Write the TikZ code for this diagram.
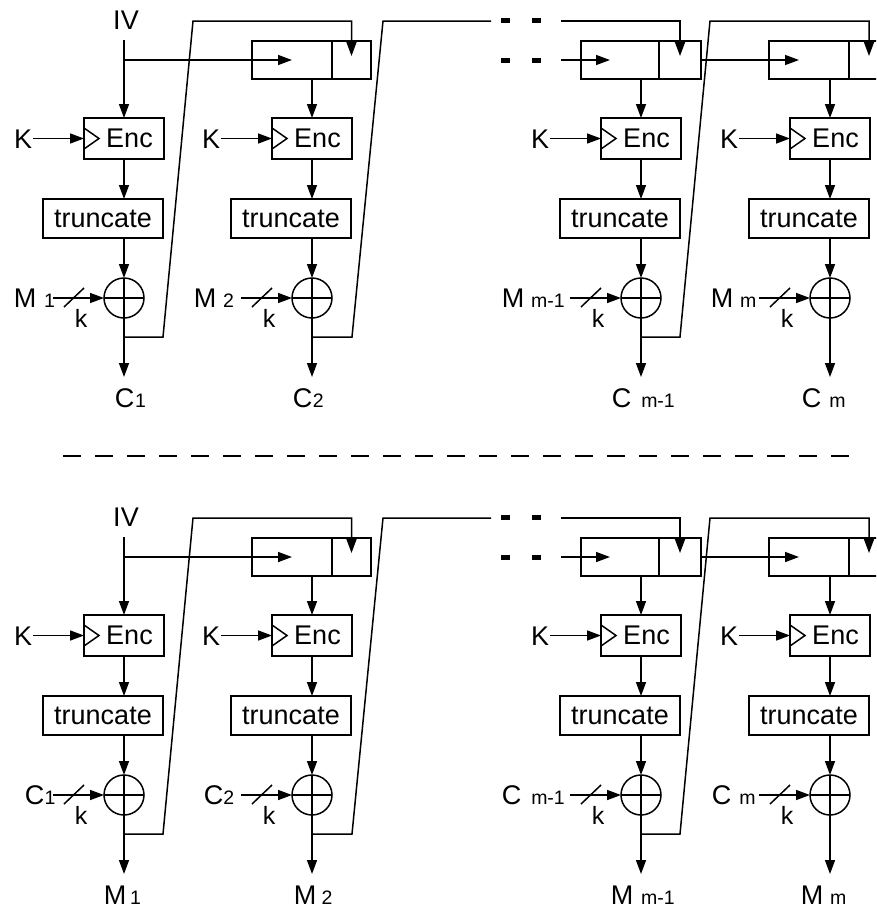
\documentclass[tikz,border=0pt]{standalone}
\usepackage{fontspec}
\setmainfont{Liberation Sans}
\usetikzlibrary{arrows.meta}
\newcommand{\cfbsub}[1]{{\fontsize{19.5}{22}\selectfont #1}}
\newcommand{\cfbstage}[2]{%
  \node[encbox] (#1enc) at (#2,138.5) {\hspace*{11pt}Enc};
  \draw (#1enc.west) ++(0,-10.5) -- ++(15,10.5) -- ++(-15,10.5);
  \node[lbl, anchor=base east] (#1K) at (#2-91,148) {K};
  \draw[arr] (#1K.east |- #1enc.west) -- (#1enc.west);
  \node[truncbox] (#1tr) at (#2-21,218.5) {truncate};
  \node[xorc] (#1x) at (#2,298) {};
  \draw (#1x.north) -- (#1x.south) (#1x.west) -- (#1x.east);
  \draw[arr] (#1enc.south) -- (#1enc.south |- #1tr.north);
  \draw[arr] (#1x |- #1tr.south) -- (#1x.north);
  \coordinate (#1in) at (#2-71,298);
  \draw[arr] (#1in) -- (#1x.west);
  \draw ([shift={(-60,9)}]#1x.center) -- ++(20,-19);
  \node[klbl, anchor=base] (#1k) at (#2-43,327) {k};
  \coordinate (#1out) at (#2,377);
  \draw[arr] (#1x.south) -- (#1out);
  \coordinate (#1fb) at (#2,337);
}
\newcommand{\cfbhalf}[1]{%
  \node[lbl, anchor=base] (#1IV) at (126,29) {IV};
  \cfbstage{#1s1}{124}
  \cfbstage{#1s2}{312}
  \cfbstage{#1s3}{641}
  \cfbstage{#1s4}{830}
  % shift registers
  \node[cellbox, minimum width=80pt] (#1r2a) at (252,60) {};
  \node[cellbox, minimum width=39pt] (#1r2b) at (#1r2a.east) {};
  \node[cellbox, minimum width=78pt] (#1r3a) at (581,60) {};
  \node[cellbox, minimum width=42pt] (#1r3b) at (#1r3a.east) {};
  \node[cellbox, minimum width=80pt] (#1r4a) at (769,60) {};
  \node[cellbox, minimum width=40pt] (#1r4b) at (#1r4a.east) {};
  % IV
  \coordinate (#1ivs) at (124,40);
  \draw[arr] (#1ivs) -- (#1s1enc.north);
  \coordinate (#1br) at (124,60);
  \draw[arr] (#1br) -- (#1r2a.center);
  % register outputs
  \draw[arr] (#1r2a.south -| #1s2x) -- (#1s2enc.north);
  \draw[arr] (#1r3a.south -| #1s3x) -- (#1s3enc.north);
  \draw[arr] (#1r4a.south -| #1s4x) -- (#1s4enc.north);
  % feedback
  \draw[arr] (#1s1fb) -- ++(39,0) -- ++(30,-316) -| ([yshift=4pt]#1r2b.center);
  \coordinate (#1dA) at (491,21);
  \draw (#1s2fb) -- ++(40,0) -- ++(31,-316) -- (#1dA);
  \draw[thickdash] (501,20) -- (510,20) (532,20) -- (541,20)
                   (501,60) -- (510,60) (532,60) -- (541,60);
  \coordinate (#1dB) at (561,21);
  \draw[arr] (#1dB) -| ([yshift=4pt]#1r3b.center);
  \coordinate (#1dC) at (561,60);
  \draw[arr] (#1dC) -- ([xshift=-10pt]#1r3a.center);
  \draw[arr] (#1s3fb) -- ++(39,0) -- ++(30,-316) -| ([yshift=4pt]#1r4b.center);
  \draw[arr] (#1r3b.east) -- ([xshift=-10pt]#1r4a.center);
}
\begin{document}
\begin{tikzpicture}[x=1pt,y=-1pt,line width=1.5pt,
  arr/.style={-{Triangle[length=14pt,width=10pt]}},
  lbl/.style={font=\fontsize{27}{30}\selectfont, inner sep=0pt},
  klbl/.style={font=\fontsize{25}{28}\selectfont, inner sep=0pt},
  encbox/.style={draw, minimum width=80pt, minimum height=41pt, inner sep=0pt, outer sep=0pt, font=\fontsize{27}{30}\selectfont},
  truncbox/.style={draw, minimum width=120pt, minimum height=39pt, inner sep=0pt, outer sep=0pt, font=\fontsize{27}{30}\selectfont},
  xorc/.style={draw, circle, minimum size=40pt, inner sep=0pt, outer sep=0pt},
  cellbox/.style={draw, minimum height=38pt, inner sep=0pt, outer sep=0pt, anchor=west},
  thickdash/.style={line width=5pt}
]
\useasboundingbox (0,0) rectangle (876,908);
\clip (0,0) rectangle (876,908);
\cfbhalf{t}
\begin{scope}[yshift=-497pt]
\cfbhalf{b}
\end{scope}
% separator
\coordinate (sepL) at (63,456);
\coordinate (sepR) at (860,456);
\draw[dash pattern=on 18pt off 14pt] (sepL) -- (sepR);
% top labels
\node[lbl, anchor=base west] (tM1) at (13,307) {M\hspace{8pt}\cfbsub{1}};
\node[lbl, anchor=base west] (tM2) at (193,307) {M\hspace{7pt}\cfbsub{2}};
\node[lbl, anchor=base west] (tM3) at (501,307) {M\hspace{7pt}\cfbsub{m-1}};
\node[lbl, anchor=base west] (tM4) at (710,307) {M\hspace{7pt}\cfbsub{m}};
\node[lbl, anchor=base west] (tC1) at (114,407) {C\hspace{1pt}\cfbsub{1}};
\node[lbl, anchor=base west] (tC2) at (292,407) {C\hspace{0.5pt}\cfbsub{2}};
\node[lbl, anchor=base west] (tC3) at (611,407) {C\hspace{10pt}\cfbsub{m-1}};
\node[lbl, anchor=base west] (tC4) at (801,407) {C\hspace{8pt}\cfbsub{m}};
% bottom labels
\node[lbl, anchor=base west] (bC1) at (24,804) {C\hspace{0.5pt}\cfbsub{1}};
\node[lbl, anchor=base west] (bC2) at (203,804) {C\hspace{0pt}\cfbsub{2}};
\node[lbl, anchor=base west] (bC3) at (501,804) {C\hspace{10pt}\cfbsub{m-1}};
\node[lbl, anchor=base west] (bC4) at (711,804) {C\hspace{8pt}\cfbsub{m}};
\node[lbl, anchor=base west] (bM1) at (103,904) {M\hspace{4pt}\cfbsub{1}};
\node[lbl, anchor=base west] (bM2) at (293,904) {M\hspace{5.5pt}\cfbsub{2}};
\node[lbl, anchor=base west] (bM3) at (610,904) {M\hspace{8pt}\cfbsub{m-1}};
\node[lbl, anchor=base west] (bM4) at (800,904) {M\hspace{7pt}\cfbsub{m}};
\end{tikzpicture}
\end{document}
